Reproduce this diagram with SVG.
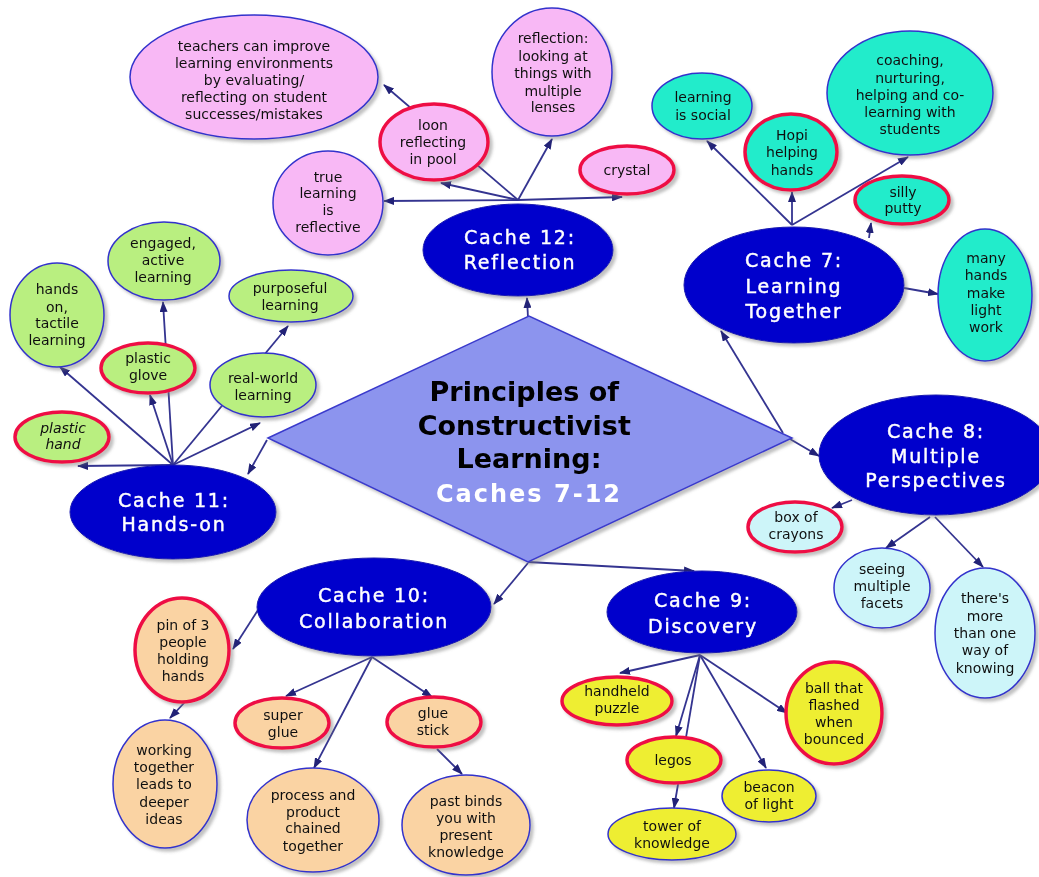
<svg xmlns="http://www.w3.org/2000/svg" width="1039" height="877" viewBox="0 0 1039 877">
<defs>
<style>
.cache{fill:#0000cc;stroke:#1a1ab0;stroke-width:1}
.ct{font-family:"DejaVu Sans",Verdana,sans-serif;font-size:19px;fill:#ffffff;stroke:#ffffff;stroke-width:0.45;text-anchor:middle;letter-spacing:1.8px}
.lt{font-family:"DejaVu Sans",Verdana,sans-serif;font-size:14px;fill:#111111;text-anchor:middle}
.bb{stroke:#3333cc;stroke-width:1.5}
.rb{stroke:#ee1144;stroke-width:3.5}
.pink{fill:#f8b8f5}
.turq{fill:#22eccb}
.lcyan{fill:#cdf5f9}
.yel{fill:#eeee33}
.peach{fill:#fad3a3}
.grn{fill:#b9ef80}
.lk{stroke:#343490;stroke-width:1.8;fill:none;marker-end:url(#ah)}
.node{filter:url(#sh)}
</style>
<marker id="ah" markerWidth="11" markerHeight="8" refX="10" refY="4" orient="auto" markerUnits="userSpaceOnUse">
<path d="M0,0 L11,4 L0,8 z" fill="#222277"/>
</marker>
<filter id="sh" x="-20%" y="-20%" width="150%" height="150%">
<feDropShadow dx="3" dy="3" stdDeviation="1.5" flood-color="#777777" flood-opacity="0.45"/>
</filter>
</defs>
<rect width="1039" height="877" fill="#ffffff"/>

<g id="connectors">
<line class="lk" x1="528" y1="318" x2="527" y2="298"/>
<line class="lk" x1="783" y1="433" x2="721" y2="331"/>
<line class="lk" x1="790" y1="439" x2="819" y2="456"/>
<line class="lk" x1="528" y1="562" x2="694" y2="571"/>
<line class="lk" x1="528" y1="563" x2="494" y2="604"/>
<line class="lk" x1="267" y1="440" x2="248" y2="474"/>

<line class="lk" x1="518" y1="200" x2="384" y2="201"/>
<line class="lk" x1="518" y1="200" x2="441" y2="183"/>
<line class="lk" x1="518" y1="200" x2="384" y2="85"/>
<line class="lk" x1="518" y1="200" x2="552" y2="139"/>
<line class="lk" x1="518" y1="200" x2="622" y2="197"/>

<line class="lk" x1="792" y1="225" x2="707" y2="141"/>
<line class="lk" x1="792" y1="225" x2="792" y2="192"/>
<line class="lk" x1="792" y1="225" x2="908" y2="157"/>
<line class="lk" x1="869" y1="238" x2="871" y2="223"/>
<line class="lk" x1="904" y1="288" x2="938" y2="294"/>

<line class="lk" x1="852" y1="500" x2="832" y2="508"/>
<line class="lk" x1="930" y1="517" x2="886" y2="548"/>
<line class="lk" x1="935" y1="517" x2="983" y2="567"/>

<line class="lk" x1="700" y1="655" x2="620" y2="673"/>
<line class="lk" x1="700" y1="655" x2="676" y2="736"/>
<line class="lk" x1="700" y1="655" x2="674" y2="808"/>
<line class="lk" x1="700" y1="655" x2="766" y2="768"/>
<line class="lk" x1="700" y1="655" x2="787" y2="713"/>

<line class="lk" x1="372" y1="657" x2="286" y2="696"/>
<line class="lk" x1="372" y1="657" x2="314" y2="768"/>
<line class="lk" x1="372" y1="657" x2="432" y2="697"/>
<line class="lk" x1="258" y1="610" x2="233" y2="649"/>
<line class="lk" x1="185" y1="702" x2="170" y2="718"/>
<line class="lk" x1="437" y1="749" x2="462" y2="774"/>

<line class="lk" x1="173" y1="465" x2="78" y2="466"/>
<line class="lk" x1="173" y1="465" x2="60" y2="367"/>
<line class="lk" x1="173" y1="465" x2="150" y2="395"/>
<line class="lk" x1="173" y1="465" x2="163" y2="302"/>
<line class="lk" x1="173" y1="465" x2="260" y2="423"/>
<line class="lk" x1="173" y1="465" x2="288" y2="326"/>
</g>

<g id="center" class="node">
<polygon points="268,438 529,316 792,438 528,562" fill="#8c94ee" stroke="#3a3acc" stroke-width="1.5"/>
<text font-family="'DejaVu Sans',Verdana,sans-serif" font-size="27" font-weight="bold" text-anchor="middle" fill="#000000">
<tspan x="529" y="401">Principles of</tspan>
<tspan x="529" y="435">Constructivist</tspan>
<tspan x="529" y="468">Learning:</tspan>
</text>
<text x="529" y="502" font-family="'DejaVu Sans',Verdana,sans-serif" font-size="24" font-weight="bold" text-anchor="middle" fill="#ffffff" letter-spacing="2">Caches 7-12</text>
</g>

<g id="cache12" class="node">
<ellipse class="cache" cx="518" cy="250" rx="95" ry="46"/>
<text class="ct"><tspan x="520" y="244">Cache 12:</tspan><tspan x="520" y="269">Reflection</tspan></text>
</g>
<g id="cache7" class="node">
<ellipse class="cache" cx="794" cy="285" rx="110" ry="58"/>
<text class="ct"><tspan x="794" y="267">Cache 7:</tspan><tspan x="794" y="293">Learning</tspan><tspan x="794" y="318">Together</tspan></text>
</g>
<g id="cache8" class="node">
<ellipse class="cache" cx="936" cy="455" rx="117" ry="60"/>
<text class="ct"><tspan x="936" y="438">Cache 8:</tspan><tspan x="936" y="463">Multiple</tspan><tspan x="936" y="487">Perspectives</tspan></text>
</g>
<g id="cache9" class="node">
<ellipse class="cache" cx="702" cy="612" rx="95" ry="41"/>
<text class="ct"><tspan x="703" y="607">Cache 9:</tspan><tspan x="703" y="633">Discovery</tspan></text>
</g>
<g id="cache10" class="node">
<ellipse class="cache" cx="374" cy="607" rx="117" ry="49"/>
<text class="ct"><tspan x="374" y="602">Cache 10:</tspan><tspan x="374" y="628">Collaboration</tspan></text>
</g>
<g id="cache11" class="node">
<ellipse class="cache" cx="173" cy="512" rx="103" ry="47"/>
<text class="ct"><tspan x="174" y="507">Cache 11:</tspan><tspan x="174" y="531">Hands-on</tspan></text>
</g>

<g id="teachers" class="node">
<ellipse class="pink bb" cx="254" cy="77" rx="124" ry="62"/>
<text class="lt"><tspan x="254" y="51">teachers can improve</tspan><tspan x="254" y="68">learning environments</tspan><tspan x="254" y="85">by evaluating/</tspan><tspan x="254" y="102">reflecting on student</tspan><tspan x="254" y="119">successes/mistakes</tspan></text>
</g>
<g id="loon" class="node">
<ellipse class="pink rb" cx="434" cy="142" rx="54" ry="38"/>
<text class="lt"><tspan x="433" y="130">loon</tspan><tspan x="433" y="147">reflecting</tspan><tspan x="433" y="164">in pool</tspan></text>
</g>
<g id="truelearning" class="node">
<ellipse class="pink bb" cx="328" cy="203" rx="55" ry="52"/>
<text class="lt"><tspan x="328" y="182">true</tspan><tspan x="328" y="198">learning</tspan><tspan x="328" y="215">is</tspan><tspan x="328" y="232">reflective</tspan></text>
</g>
<g id="reflection" class="node">
<ellipse class="pink bb" cx="552" cy="72" rx="60" ry="64"/>
<text class="lt"><tspan x="553" y="43">reflection:</tspan><tspan x="553" y="61">looking at</tspan><tspan x="553" y="78">things with</tspan><tspan x="553" y="96">multiple</tspan><tspan x="553" y="112">lenses</tspan></text>
</g>
<g id="crystal" class="node">
<ellipse class="pink rb" cx="627" cy="170" rx="47" ry="24"/>
<text class="lt" x="627" y="175">crystal</text>
</g>

<g id="social" class="node">
<ellipse class="turq bb" cx="702" cy="106" rx="50" ry="33"/>
<text class="lt"><tspan x="703" y="102">learning</tspan><tspan x="703" y="120">is social</tspan></text>
</g>
<g id="hopi" class="node">
<ellipse class="turq rb" cx="791" cy="152" rx="46" ry="38"/>
<text class="lt"><tspan x="792" y="140">Hopi</tspan><tspan x="792" y="157">helping</tspan><tspan x="792" y="175">hands</tspan></text>
</g>
<g id="coaching" class="node">
<ellipse class="turq bb" cx="910" cy="93" rx="83" ry="62"/>
<text class="lt"><tspan x="910" y="65">coaching,</tspan><tspan x="910" y="83">nurturing,</tspan><tspan x="910" y="100">helping and co-</tspan><tspan x="910" y="117">learning with</tspan><tspan x="910" y="134">students</tspan></text>
</g>
<g id="putty" class="node">
<ellipse class="turq rb" cx="902" cy="200" rx="47" ry="24"/>
<text class="lt"><tspan x="903" y="197">silly</tspan><tspan x="903" y="213">putty</tspan></text>
</g>
<g id="manyhands" class="node">
<ellipse class="turq bb" cx="985" cy="295" rx="47" ry="66"/>
<text class="lt"><tspan x="986" y="263">many</tspan><tspan x="986" y="280">hands</tspan><tspan x="986" y="298">make</tspan><tspan x="986" y="315">light</tspan><tspan x="986" y="332">work</tspan></text>
</g>

<g id="crayons" class="node">
<ellipse class="lcyan rb" cx="795" cy="527" rx="47" ry="25"/>
<text class="lt"><tspan x="796" y="522">box of</tspan><tspan x="796" y="539">crayons</tspan></text>
</g>
<g id="seeing" class="node">
<ellipse class="lcyan bb" cx="882" cy="588" rx="48" ry="40"/>
<text class="lt"><tspan x="882" y="574">seeing</tspan><tspan x="882" y="591">multiple</tspan><tspan x="882" y="608">facets</tspan></text>
</g>
<g id="theresmore" class="node">
<ellipse class="lcyan bb" cx="985" cy="633" rx="50" ry="65"/>
<text class="lt"><tspan x="985" y="603">there's</tspan><tspan x="985" y="621">more</tspan><tspan x="985" y="638">than one</tspan><tspan x="985" y="655">way of</tspan><tspan x="985" y="673">knowing</tspan></text>
</g>

<g id="puzzle" class="node">
<ellipse class="yel rb" cx="617" cy="701" rx="55" ry="24"/>
<text class="lt"><tspan x="617" y="696">handheld</tspan><tspan x="617" y="713">puzzle</tspan></text>
</g>
<g id="legos" class="node">
<ellipse class="yel rb" cx="674" cy="760" rx="47" ry="23"/>
<text class="lt" x="673" y="765">legos</text>
</g>
<g id="tower" class="node">
<ellipse class="yel bb" cx="672" cy="834" rx="64" ry="26"/>
<text class="lt"><tspan x="672" y="831">tower of</tspan><tspan x="672" y="848">knowledge</tspan></text>
</g>
<g id="beacon" class="node">
<ellipse class="yel bb" cx="769" cy="796" rx="47" ry="26"/>
<text class="lt"><tspan x="769" y="792">beacon</tspan><tspan x="769" y="809">of light</tspan></text>
</g>
<g id="ball" class="node">
<ellipse class="yel rb" cx="834" cy="713" rx="48" ry="51"/>
<text class="lt"><tspan x="834" y="693">ball that</tspan><tspan x="834" y="710">flashed</tspan><tspan x="834" y="727">when</tspan><tspan x="834" y="744">bounced</tspan></text>
</g>

<g id="pin" class="node">
<ellipse class="peach rb" cx="182" cy="650" rx="47" ry="52"/>
<text class="lt"><tspan x="183" y="630">pin of 3</tspan><tspan x="183" y="647">people</tspan><tspan x="183" y="664">holding</tspan><tspan x="183" y="681">hands</tspan></text>
</g>
<g id="working" class="node">
<ellipse class="peach bb" cx="165" cy="784" rx="52" ry="64"/>
<text class="lt"><tspan x="164" y="755">working</tspan><tspan x="164" y="772">together</tspan><tspan x="164" y="789">leads to</tspan><tspan x="164" y="807">deeper</tspan><tspan x="164" y="824">ideas</tspan></text>
</g>
<g id="superglue" class="node">
<ellipse class="peach rb" cx="282" cy="723" rx="47" ry="25"/>
<text class="lt"><tspan x="283" y="720">super</tspan><tspan x="283" y="737">glue</tspan></text>
</g>
<g id="gluestick" class="node">
<ellipse class="peach rb" cx="434" cy="722" rx="47" ry="25"/>
<text class="lt"><tspan x="433" y="718">glue</tspan><tspan x="433" y="735">stick</tspan></text>
</g>
<g id="process" class="node">
<ellipse class="peach bb" cx="313" cy="820" rx="66" ry="52"/>
<text class="lt"><tspan x="313" y="800">process and</tspan><tspan x="313" y="817">product</tspan><tspan x="313" y="833">chained</tspan><tspan x="313" y="851">together</tspan></text>
</g>
<g id="pastbinds" class="node">
<ellipse class="peach bb" cx="466" cy="825" rx="64" ry="50"/>
<text class="lt"><tspan x="466" y="806">past binds</tspan><tspan x="466" y="823">you with</tspan><tspan x="466" y="840">present</tspan><tspan x="466" y="857">knowledge</tspan></text>
</g>

<g id="handson" class="node">
<ellipse class="grn bb" cx="57" cy="315" rx="47" ry="52"/>
<text class="lt"><tspan x="57" y="294">hands</tspan><tspan x="57" y="312">on,</tspan><tspan x="57" y="328">tactile</tspan><tspan x="57" y="345">learning</tspan></text>
</g>
<g id="engaged" class="node">
<ellipse class="grn bb" cx="164" cy="261" rx="56" ry="39"/>
<text class="lt"><tspan x="163" y="248">engaged,</tspan><tspan x="163" y="265">active</tspan><tspan x="163" y="282">learning</tspan></text>
</g>
<g id="purposeful" class="node">
<ellipse class="grn bb" cx="291" cy="296" rx="62" ry="26"/>
<text class="lt"><tspan x="290" y="293">purposeful</tspan><tspan x="290" y="310">learning</tspan></text>
</g>
<g id="glove" class="node">
<ellipse class="grn rb" cx="148" cy="368" rx="47" ry="25"/>
<text class="lt"><tspan x="148" y="363">plastic</tspan><tspan x="148" y="380">glove</tspan></text>
</g>
<g id="realworld" class="node">
<ellipse class="grn bb" cx="263" cy="385" rx="53" ry="32"/>
<text class="lt"><tspan x="263" y="383">real-world</tspan><tspan x="263" y="400">learning</tspan></text>
</g>
<g id="plastichand" class="node">
<ellipse class="grn rb" cx="62" cy="437" rx="47" ry="25"/>
<text class="lt" font-size="13" font-style="italic"><tspan x="63" y="433">plastic</tspan><tspan x="63" y="449">hand</tspan></text>
</g>
</svg>
